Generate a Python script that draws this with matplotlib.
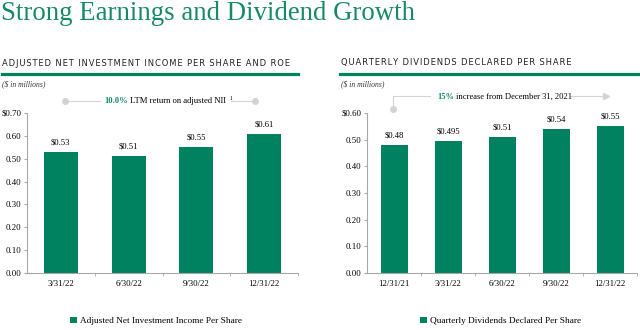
import matplotlib
matplotlib.use("Agg")
import matplotlib.pyplot as plt
from matplotlib.lines import Line2D

# Data
nii_labels = ["3/31/22", "6/30/22", "9/30/22", "12/31/22"]
nii_values = [0.53, 0.51, 0.55, 0.61]
nii_texts = ["$0.53", "$0.51", "$0.55", "$0.61"]
nii_yticks = [0.0, 0.1, 0.2, 0.3, 0.4, 0.5, 0.6, 0.7]
nii_yticklabels = ["0.00", "0.10", "0.20", "0.30", "0.40", "0.50", "0.60", "$0.70"]

div_labels = ["12/31/21", "3/31/22", "6/30/22", "9/30/22", "12/31/22"]
div_values = [0.48, 0.495, 0.51, 0.54, 0.55]
div_texts = ["$0.48", "$0.495", "$0.51", "$0.54", "$0.55"]
div_yticks = [0.0, 0.1, 0.2, 0.3, 0.4, 0.5, 0.6]
div_yticklabels = ["0.00", "0.10", "0.20", "0.30", "0.40", "0.50", "$0.60"]

GREEN = "#00815F"
TITLE_GREEN = "#17896A"
GRAY = "#A8A8A8"
LGRAY = "#D3D3D3"
SERIF = ["Liberation Serif", "DejaVu Serif"]
SANS = ["DejaVu Sans"]

W, H = 640, 330
fig = plt.figure(figsize=(6.4, 3.3), dpi=100)
renderer = fig.canvas.get_renderer()

def fx(px):
    return px / W

def fy(py):
    return 1 - py / H

def spaced(s):
    return "\u200a".join(s)

# Title
fig.text(fx(1), fy(1), "Strong Earnings and Dividend Growth", fontsize=19.3,
         family=SERIF, color=TITLE_GREEN, va="top", ha="left")

def panel(x0, x1, labels, values, texts, yticks, yticklabels, ymax, legend_label, legend_x):
    ax = fig.add_axes([fx(x0), fy(273), fx(x1) - fx(x0), fy(113) - fy(273)])
    xs = list(range(len(labels)))
    ax.bar(xs, values, width=0.5, color=GREEN, label=legend_label, zorder=2)
    ax.set_xlim(-0.5, len(labels) - 0.5)
    ax.set_ylim(0, ymax)
    ax.set_yticks(yticks)
    ax.set_yticklabels(yticklabels, family=SERIF, fontsize=6.3)
    ax.set_xticks(xs)
    ax.set_xticklabels(labels, family=SERIF, fontsize=6.3)
    ax.set_xticks([i + 0.5 for i in xs], minor=True)
    ax.tick_params(axis="x", which="major", length=0, pad=5)
    ax.tick_params(axis="x", which="minor", length=2.5, color=GRAY, direction="out")
    ax.tick_params(axis="y", length=2.5, color=GRAY, direction="out", pad=1.5)
    for s in ["top", "right"]:
        ax.spines[s].set_visible(False)
    for s in ["left", "bottom"]:
        ax.spines[s].set_color(GRAY)
        ax.spines[s].set_linewidth(0.8)
    for x, v, t in zip(xs, values, texts):
        ax.annotate(t, (x, v), xytext=(0, 4), textcoords="offset points",
                    ha="center", va="bottom", family=SERIF, fontsize=6.2)
    ax.legend(loc="center left", bbox_to_anchor=(fx(legend_x), fy(321)),
              bbox_transform=fig.transFigure, frameon=False, handlelength=0.75,
              handleheight=0.75, handletextpad=0.35, borderaxespad=0,
              prop={"family": SERIF, "size": 6.7})
    return ax

ax1 = panel(27, 298, nii_labels, nii_values, nii_texts, nii_yticks, nii_yticklabels, 0.70,
            "Adjusted Net Investment Income Per Share", 66)
ax2 = panel(367, 637, div_labels, div_values, div_texts, div_yticks, div_yticklabels, 0.60,
            "Quarterly Dividends Declared Per Share", 416)

# Headers and rules
fig.text(fx(2), fy(63), spaced("ADJUSTED NET INVESTMENT INCOME PER SHARE AND ROE"),
         family=SANS, fontsize=6.05, va="center", ha="left", color="#222222")
fig.text(fx(341), fy(63), spaced("QUARTERLY DIVIDENDS DECLARED PER SHARE"),
         family=SANS, fontsize=6.0, va="center", ha="left", color="#222222")
fig.add_artist(Line2D([fx(2), fx(298)], [fy(74), fy(74)], color=GREEN, lw=2.3,
                      transform=fig.transFigure))
fig.add_artist(Line2D([fx(340), fx(639)], [fy(74), fy(74)], color=GREEN, lw=2.3,
                      transform=fig.transFigure))
fig.text(fx(2), fy(84), "($ in millions)", family=SERIF, style="italic",
         fontsize=5.5, va="center", ha="left", color="#333333")
fig.text(fx(341), fy(84), "($ in millions)", family=SERIF, style="italic",
         fontsize=5.5, va="center", ha="left", color="#333333")

def run_text(x_px, y_px, parts):
    x = x_px
    for s, kw in parts:
        dy = kw.pop("dy", 0)
        gap = kw.pop("gap", 2)
        t = fig.text(fx(x), fy(y_px + dy), s, va="center", ha="left",
                     family=SERIF, **kw)
        bb = t.get_window_extent(renderer)
        x += bb.width + gap
    return x

# Left annotation
fig.add_artist(Line2D([fx(65), fx(100)], [fy(101), fy(101)], color=LGRAY, lw=0.8,
                      transform=fig.transFigure))
fig.add_artist(Line2D([fx(231), fx(255)], [fy(101), fy(101)], color=LGRAY, lw=0.8,
                      transform=fig.transFigure))
fig.add_artist(Line2D([fx(65)], [fy(101)], marker="o", ms=4, color=LGRAY,
                      transform=fig.transFigure))
fig.add_artist(Line2D([fx(255)], [fy(101)], marker="o", ms=4, color=LGRAY,
                      transform=fig.transFigure))
run_text(104, 101, [("10.0%", dict(fontsize=6.2, weight="bold", color=TITLE_GREEN, gap=2)),
                    ("LTM return on adjusted NII", dict(fontsize=6.2, gap=4)),
                    ("1", dict(fontsize=4.2, dy=-3))])

# Right annotation
fig.add_artist(Line2D([fx(393), fx(393), fx(430)], [fy(109), fy(96), fy(96)], color=LGRAY,
                      lw=0.8, transform=fig.transFigure))
fig.add_artist(Line2D([fx(393)], [fy(109)], marker="o", ms=4, color=LGRAY,
                      transform=fig.transFigure))
fig.add_artist(Line2D([fx(570), fx(603)], [fy(96), fy(96)], color=LGRAY, lw=0.8,
                      transform=fig.transFigure))
fig.add_artist(Line2D([fx(606)], [fy(96)], marker=">", ms=4, color=LGRAY,
                      transform=fig.transFigure))
run_text(437, 97, [("15%", dict(fontsize=6.1, weight="bold", color=TITLE_GREEN, gap=2)),
                   ("increase from December 31, 2021", dict(fontsize=6.1))])

fig.savefig("out.png", dpi=100)
